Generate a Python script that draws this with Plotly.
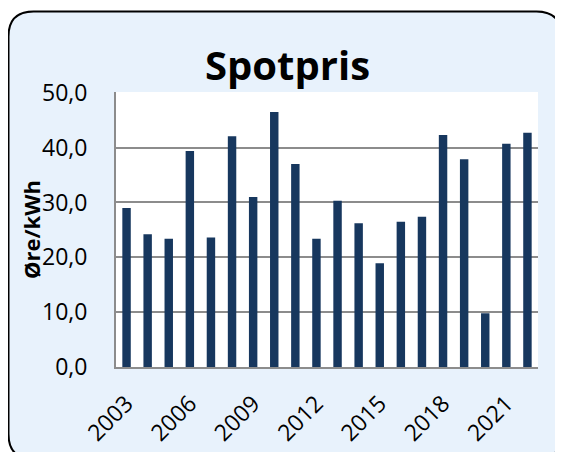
import plotly.graph_objects as go

years = [str(y) for y in range(2003, 2023)]
prices = [29.0, 24.2, 23.4, 39.4, 23.6, 42.1, 31.0, 46.5, 37.0, 23.4,
          30.3, 26.2, 18.9, 26.5, 27.4, 42.3, 37.9, 9.8, 40.7, 42.7]
tick_years = ["2003", "2006", "2009", "2012", "2015", "2018", "2021"]
title_text = "Spotpris"
y_title = "Øre/kWh"

# page body has an 8px margin, so figure pixel = screen pixel - 8
OFF = 8
W, H = 563, 452
L, R, T, B = 116 - OFF, 538 - OFF, 92 - OFF, 367 - OFF


def px(x):
    return (x - OFF - L) / (R - L)


def py(y):
    return (B - (y - OFF)) / (B - T)


def rrect(x0, y0, x1, y1, r):
    return (f"M{px(x0 + r)},{py(y0)} L{px(x1 - r)},{py(y0)} "
            f"Q{px(x1)},{py(y0)} {px(x1)},{py(y0 + r)} "
            f"L{px(x1)},{py(y1 - r)} Q{px(x1)},{py(y1)} {px(x1 - r)},{py(y1)} "
            f"L{px(x0 + r)},{py(y1)} Q{px(x0)},{py(y1)} {px(x0)},{py(y1 - r)} "
            f"L{px(x0)},{py(y0 + r)} Q{px(x0)},{py(y0)} {px(x0 + r)},{py(y0)} Z")


outer = (f"M{px(-5)},{py(-5)} L{px(W + 20)},{py(-5)} L{px(W + 20)},{py(H + 20)} "
         f"L{px(-5)},{py(H + 20)} Z ")
panel = rrect(8.5, 11.5, 561.5, 459, 25)

fig = go.Figure()
fig.add_trace(go.Bar(x=years, y=prices, marker_color="#17375E",
                     marker_line_width=0, width=0.4))

grid = "#8C8C8C"
fig.update_layout(
    width=W, height=H,
    margin=dict(l=L, r=W - R, t=T, b=H - B, pad=0),
    paper_bgcolor="#E8F2FC",
    plot_bgcolor="white",
    separators=", ",
    showlegend=False,
    font=dict(family="Open Sans", color="black"),
    xaxis=dict(type="category", tickmode="array", tickvals=tick_years,
               ticktext=tick_years, tickangle=-45, ticks="",
               tickfont=dict(size=23), showline=True, linecolor=grid,
               linewidth=2, showgrid=False, ticklabelstandoff=12),
    yaxis=dict(range=[0, 50.15], tick0=0, dtick=10, tickformat=".1f", ticks="",
               tickfont=dict(size=23), showline=True, linecolor=grid,
               linewidth=2, gridcolor=grid, gridwidth=2, zeroline=False,
               ticklabelstandoff=22),
    shapes=[
        dict(type="path", xref="paper", yref="paper", path=outer + panel,
             fillcolor="white", fillrule="evenodd", line=dict(width=0),
             layer="above"),
        dict(type="path", xref="paper", yref="paper", path=panel,
             line=dict(color="black", width=2), fillcolor="rgba(0,0,0,0)",
             layer="above"),
    ],
    annotations=[
        dict(text=f"<b>{title_text}</b>", xref="paper", yref="paper",
             x=px(287), y=py(64), showarrow=False,
             font=dict(size=40, family="Open Sans", color="black"),
             xanchor="center", yanchor="middle"),
        dict(text=f"<b>{y_title}</b>", xref="paper", yref="paper",
             x=px(31), y=py(230), showarrow=False, textangle=-90,
             font=dict(size=22, family="Open Sans", color="black"),
             xanchor="center", yanchor="middle"),
    ],
)

fig.write_html("out.html")
